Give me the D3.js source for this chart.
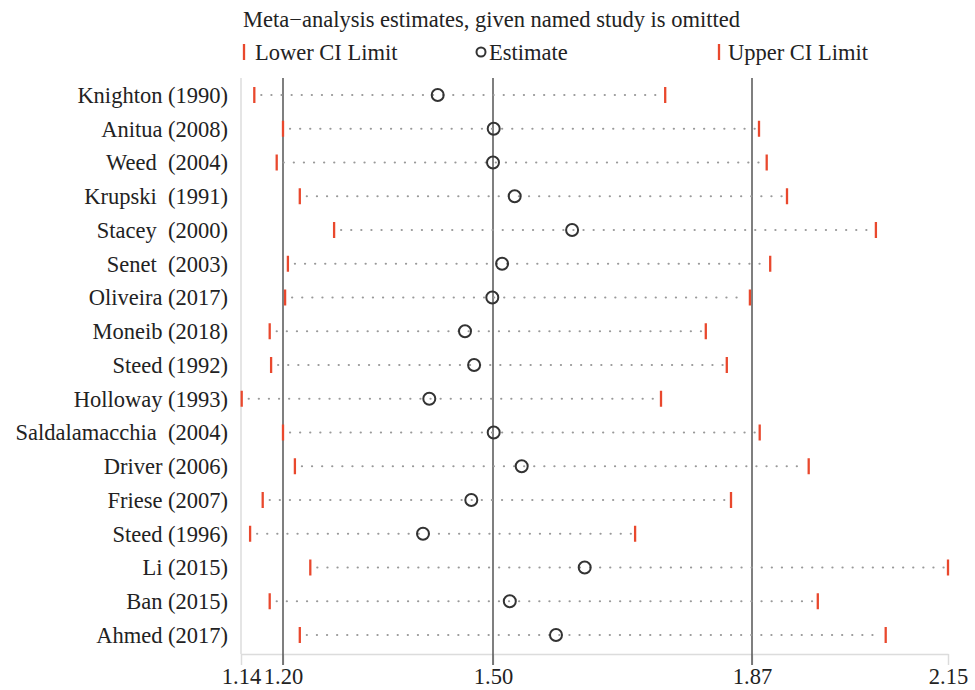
<!DOCTYPE html>
<style>
	body { margin: 0; background: #fff; }
	text { font-family: "Liberation Serif", "Times New Roman", serif; fill: #222; white-space: pre; }
</style>
<svg width="975" height="690"></svg>
<script src="https://d3js.org/d3.v7.min.js"></script>
<script>

	var studies = ["Knighton (1990)", "Anitua (2008)", "Weed  (2004)", "Krupski  (1991)", "Stacey  (2000)",
		"Senet  (2003)", "Oliveira (2017)", "Moneib (2018)", "Steed (1992)", "Holloway (1993)",
		"Saldalamacchia  (2004)", "Driver (2006)", "Friese (2007)", "Steed (1996)", "Li (2015)",
		"Ban (2015)", "Ahmed (2017)"];
	var lower = [1.159, 1.200, 1.191, 1.224, 1.273, 1.207, 1.203, 1.181, 1.183, 1.141,
		1.200, 1.217, 1.171, 1.153, 1.239, 1.181, 1.224];
	var estimate = [1.421, 1.501, 1.500, 1.531, 1.613, 1.513, 1.499, 1.460, 1.473, 1.409,
		1.501, 1.541, 1.469, 1.400, 1.631, 1.524, 1.590];
	var upper = [1.746, 1.880, 1.891, 1.920, 2.047, 1.896, 1.867, 1.804, 1.834, 1.740,
		1.881, 1.951, 1.840, 1.703, 2.150, 1.964, 2.061];
	var ticks = [1.14, 1.20, 1.50, 1.87, 2.15];
	var refLines = [1.20, 1.50, 1.87];

	var svg = d3.select("svg"),
		plotTop = 78, plotBottom = 654,
		fs = 22.5;

	var x = d3.scaleLinear().domain([1.14, 2.15]).range([241, 948]);
	var y = d3.scalePoint().domain(studies).range([95, 635]);

	var red = "#e9482d";

	// frame (light gray left + bottom)
	svg.append("line")
		.attr("x1", x(1.14)).attr("x2", x(1.14))
		.attr("y1", plotTop).attr("y2", plotBottom)
		.attr("stroke", "#dcdcdc").attr("stroke-width", 1.5);

	var xAxis = svg.append("g")
		.attr("transform", "translate(0," + plotBottom + ")")
		.call(d3.axisBottom(x).tickValues(ticks).tickFormat(d3.format(".2f")).tickSize(11).tickSizeOuter(0));
	xAxis.select(".domain").attr("stroke", "#dcdcdc").attr("stroke-width", 1.5);
	xAxis.selectAll(".tick line").attr("stroke", "#dcdcdc").attr("stroke-width", 1.5);
	xAxis.selectAll(".tick text")
		.attr("font-family", "Liberation Serif")
		.attr("font-size", fs)
		.attr("fill", "#222")
		.attr("y", 14)
		.attr("dy", "0.71em");

	// reference lines
	svg.selectAll(".ref")
		.data(refLines)
		.enter().append("line")
		.attr("x1", function(d) { return x(d); })
		.attr("x2", function(d) { return x(d); })
		.attr("y1", plotTop).attr("y2", plotBottom + 11)
		.attr("stroke", "#555").attr("stroke-width", 1.5);

	var rows = svg.append("g").selectAll("g")
		.data(studies)
		.enter().append("g")
		.attr("transform", function(d) { return "translate(0," + y(d) + ")"; });

	// dotted connectors
	rows.append("line")
		.attr("x1", function(d, i) { return x(lower[i]) + 7; })
		.attr("x2", function(d, i) { return x(upper[i]) - 4; })
		.attr("stroke", "#999")
		.attr("stroke-width", 2.2)
		.attr("stroke-linecap", "round")
		.attr("stroke-dasharray", "0.1 10");

	rows.append("line")
		.attr("x1", function(d, i) { return x(lower[i]); })
		.attr("x2", function(d, i) { return x(lower[i]); })
		.attr("y1", -8).attr("y2", 8)
		.attr("stroke", red).attr("stroke-width", 2.3);

	rows.append("line")
		.attr("x1", function(d, i) { return x(upper[i]); })
		.attr("x2", function(d, i) { return x(upper[i]); })
		.attr("y1", -8).attr("y2", 8)
		.attr("stroke", red).attr("stroke-width", 2.3);

	rows.append("circle")
		.attr("cx", function(d, i) { return x(estimate[i]); })
		.attr("r", 6)
		.attr("fill", "none")
		.attr("stroke", "#333")
		.attr("stroke-width", 2);

	rows.append("text")
		.attr("x", 228)
		.attr("dy", "0.35em")
		.attr("text-anchor", "end")
		.attr("font-size", fs)
		.text(function(d) { return d; });

	// title + legend
	svg.append("text")
		.attr("x", 243).attr("y", 27)
		.attr("font-size", fs)
		.text("Meta\u2212analysis estimates, given named study is omitted");

	var legend = svg.append("g").attr("transform", "translate(0,52)");
	legend.append("line")
		.attr("x1", 244).attr("x2", 244).attr("y1", -8).attr("y2", 8)
		.attr("stroke", red).attr("stroke-width", 2.3);
	legend.append("text").attr("x", 255).attr("dy", "0.35em").attr("font-size", fs).text("Lower CI Limit");
	legend.append("circle")
		.attr("cx", 481).attr("r", 4.5)
		.attr("fill", "none").attr("stroke", "#333").attr("stroke-width", 2);
	legend.append("text").attr("x", 489).attr("dy", "0.35em").attr("font-size", fs).text("Estimate");
	legend.append("line")
		.attr("x1", 719).attr("x2", 719).attr("y1", -8).attr("y2", 8)
		.attr("stroke", red).attr("stroke-width", 2.3);
	legend.append("text").attr("x", 728).attr("dy", "0.35em").attr("font-size", fs).text("Upper CI Limit");

</script>
